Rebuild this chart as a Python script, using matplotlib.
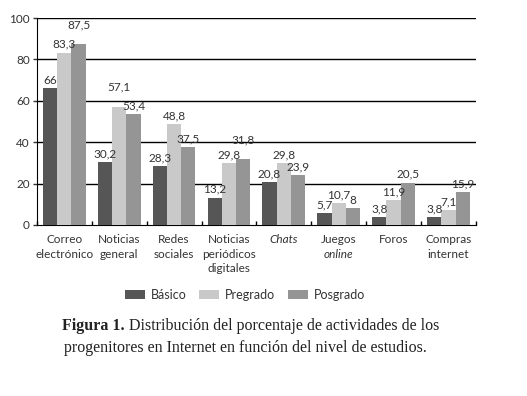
import numpy as np
import matplotlib.pyplot as plt
from matplotlib.transforms import blended_transform_factory

categories = ['Correo\nelectrónico', 'Noticias\ngeneral', 'Redes\nsociales',
              'Noticias\nperiódicos\ndigitales', 'Chats', 'Juegos\nonline',
              'Foros', 'Compras\ninternet']
basico = [66, 30.2, 28.3, 13.2, 20.8, 5.7, 3.8, 3.8]
pregrado = [83.3, 57.1, 48.8, 29.8, 29.8, 10.7, 11.9, 7.1]
posgrado = [87.5, 53.4, 37.5, 31.8, 23.9, 8, 20.5, 15.9]
series = [('Básico', basico, '#565656'),
          ('Pregrado', pregrado, '#c9c9c9'),
          ('Posgrado', posgrado, '#959595')]

plt.rcParams['font.family'] = ['Lato', 'DejaVu Sans']
txtcol = '#333333'

fig = plt.figure(figsize=(5.27, 3.96), dpi=100)
ax = fig.add_axes([0.070, 0.432, 0.833, 0.5225])

x = np.arange(len(categories))
w = 0.26
vals_all = np.array([s[1] for s in series])
for k, (name, vals, col) in enumerate(series):
    bars = ax.bar(x + (k - 1) * w, vals, w, color=col, label=name, zorder=3)
    for i, (b, v) in enumerate(zip(bars, vals)):
        # lift a wide label when it would collide with a neighbouring one
        dy = 2
        for kk in (k - 1, k + 1):
            if 0 <= kk < 3:
                nb = vals_all[kk, i]
                if 0 < v - nb < 5 and nb >= 10:
                    dy = 10
        txt = f'{v:g}'.replace('.', ',')
        ax.annotate(txt, (b.get_x() + b.get_width() / 2, v), xytext=(0, dy),
                    textcoords='offset points', ha='center', va='bottom',
                    fontsize=8.5, color=txtcol, zorder=4)

ax.set_xlim(-0.5, len(categories) - 0.5)
ax.set_ylim(0, 100)
ax.set_yticks([0, 20, 40, 60, 80, 100])
for yv in [20, 40, 60, 80, 100]:
    ax.axhline(yv, color='black', lw=1, zorder=1)
ax.tick_params(axis='y', labelsize=8.5, length=3, width=1, pad=2, colors=txtcol)
ax.set_xticks(np.arange(len(categories) + 1) - 0.5)
ax.set_xticklabels([])
ax.tick_params(axis='x', direction='in', length=3, width=1)
for s in ['top', 'right']:
    ax.spines[s].set_visible(False)

trans = blended_transform_factory(ax.transData, ax.transAxes)
for i, lab in enumerate(categories):
    for j, line in enumerate(lab.split('\n')):
        style = 'italic' if line in ('Chats', 'online') else 'normal'
        ax.text(i, -0.045 - j * 0.069, line, transform=trans, ha='center',
                va='top', fontsize=8.5, style=style, color=txtcol)

fig.legend(loc='center', bbox_to_anchor=(245 / 527, 1 - 295 / 396), ncol=3,
           frameon=False, fontsize=9, handlelength=1.6, handleheight=0.8,
           columnspacing=1.0, handletextpad=0.5, labelcolor=txtcol)

cap_font = ['Liberation Serif', 'DejaVu Serif']
t1 = fig.text(0.118, 1 - 326 / 396, 'Figura 1.', fontsize=11.5, family=cap_font,
              weight='bold', ha='left', va='center', color='#222222')
fig.canvas.draw()
bb = t1.get_window_extent()
fig.text(bb.x1 / fig.bbox.width + 0.008, 1 - 326 / 396,
         'Distribución del porcentaje de actividades de los', fontsize=11.5,
         family=cap_font, ha='left', va='center', color='#222222')
fig.text(245 / 527, 1 - 348 / 396,
         'progenitores en Internet en función del nivel de estudios.',
         fontsize=11.5, family=cap_font, ha='center', va='center', color='#222222')

fig.savefig('out.png', dpi=100)
